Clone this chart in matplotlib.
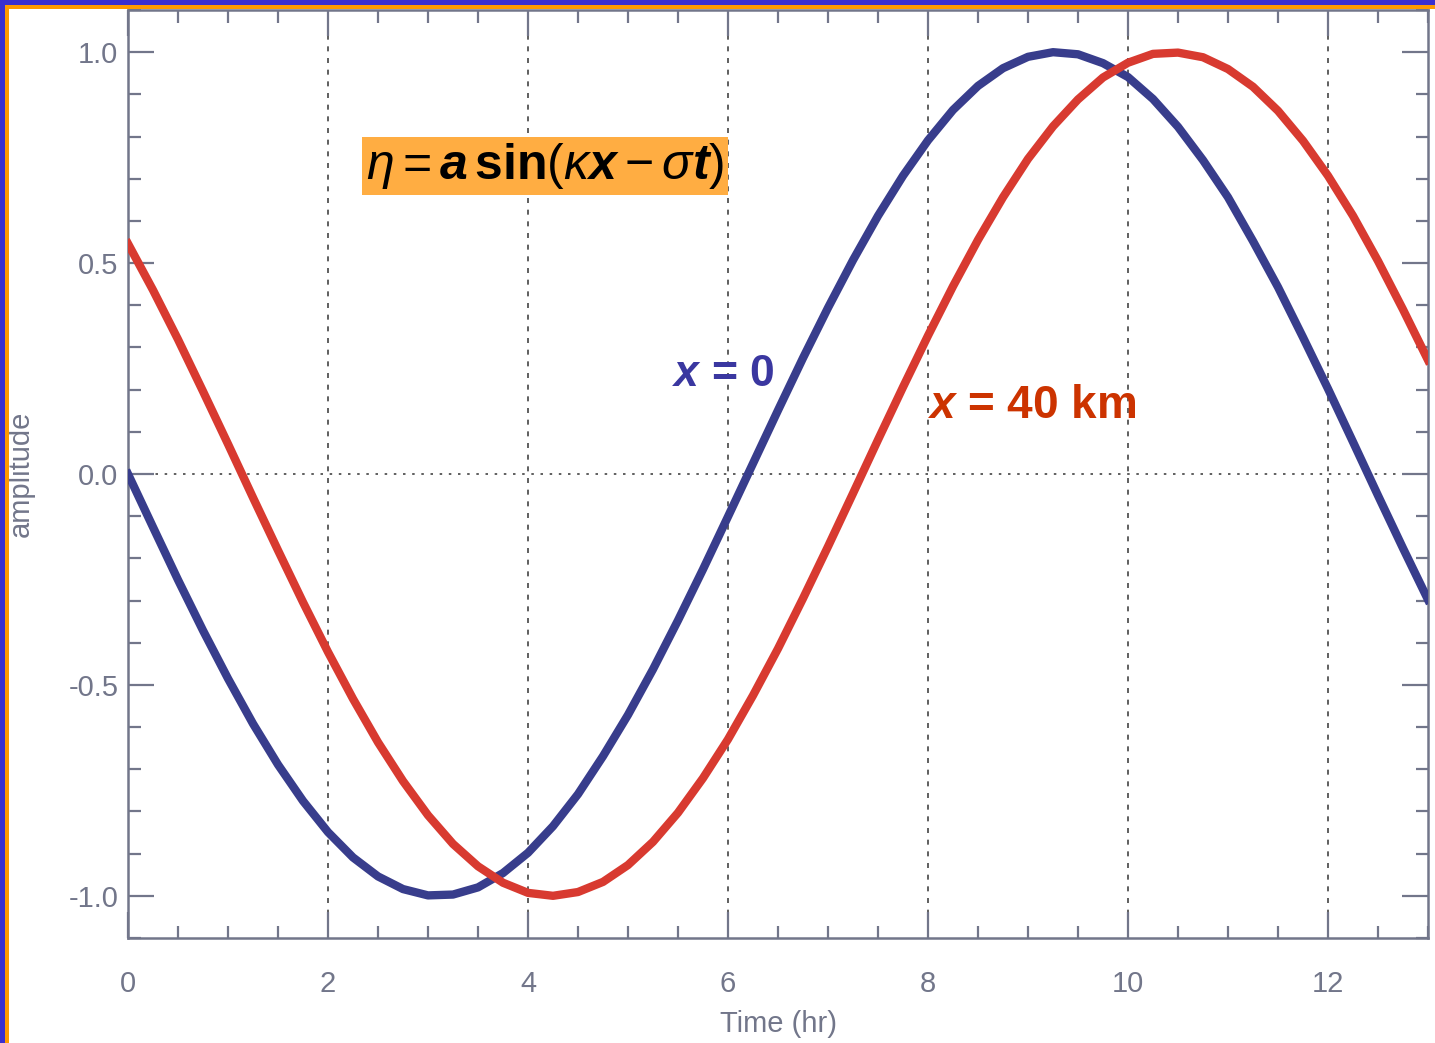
import matplotlib.pyplot as plt
from matplotlib.patches import Rectangle
from matplotlib.ticker import MultipleLocator

plt.rcParams['font.family'] = 'Liberation Sans'
plt.rcParams['mathtext.fontset'] = 'custom'
plt.rcParams['mathtext.rm'] = 'Liberation Sans'
plt.rcParams['mathtext.it'] = 'Liberation Sans:italic'
plt.rcParams['mathtext.bf'] = 'Liberation Sans:bold'
plt.rcParams['mathtext.bfit'] = 'Liberation Sans:italic:bold'

# time axis (hr) and surface elevation at the two stations
time_hr = [0.00, 0.25, 0.50, 0.75, 1.00, 1.25, 1.50, 1.75, 2.00, 2.25, 2.50,
           2.75, 3.00, 3.25, 3.50, 3.75, 4.00, 4.25, 4.50, 4.75, 5.00, 5.25,
           5.50, 5.75, 6.00, 6.25, 6.50, 6.75, 7.00, 7.25, 7.50, 7.75, 8.00,
           8.25, 8.50, 8.75, 9.00, 9.25, 9.50, 9.75, 10.00, 10.25, 10.50,
           10.75, 11.00, 11.25, 11.50, 11.75, 12.00, 12.25, 12.50, 12.75, 13.00]
eta_x0 = [0.000, -0.126, -0.251, -0.371, -0.485, -0.592, -0.689, -0.775,
          -0.849, -0.909, -0.954, -0.984, -0.999, -0.997, -0.980, -0.946,
          -0.898, -0.835, -0.759, -0.669, -0.571, -0.463, -0.347, -0.226,
          -0.101, 0.025, 0.151, 0.275, 0.394, 0.507, 0.612, 0.707, 0.791,
          0.863, 0.920, 0.962, 0.989, 1.000, 0.995, 0.974, 0.941, 0.889,
          0.823, 0.744, 0.656, 0.552, 0.443, 0.324, 0.202, 0.076, -0.051,
          -0.176, -0.298]
eta_x40 = [0.546, 0.436, 0.319, 0.196, 0.071, -0.056, -0.181, -0.304,
           -0.422, -0.533, -0.636, -0.728, -0.809, -0.877, -0.930, -0.969,
           -0.993, -1.000, -0.991, -0.967, -0.927, -0.872, -0.803, -0.721,
           -0.629, -0.525, -0.414, -0.295, -0.172, -0.046, 0.081, 0.206,
           0.328, 0.445, 0.555, 0.656, 0.747, 0.824, 0.888, 0.940, 0.975,
           0.996, 0.999, 0.988, 0.960, 0.918, 0.861, 0.790, 0.707, 0.612,
           0.505, 0.390, 0.270]

axis_col = '#72768a'

fig = plt.figure(figsize=(14.35, 10.43), dpi=100)
ax = fig.add_axes([128 / 1435, 1 - 938 / 1043, 1300 / 1435, 928 / 1043])

ax.plot(time_hr, eta_x0, color='#383d8c', lw=6, solid_joinstyle='round', zorder=3)
ax.plot(time_hr, eta_x40, color='#d83a30', lw=6, solid_joinstyle='round', zorder=3)

for xg in range(0, 13, 2):
    ax.axvline(xg, color='#444444', lw=1.2, ls=(0, (3, 4)), zorder=1)
ax.axhline(0, color='#444444', lw=1.2, ls=(0, (1.5, 4)), zorder=1)

ax.set_xlim(0, 13)
ax.set_ylim(-1.1, 1.1)
ax.xaxis.set_major_locator(MultipleLocator(2))
ax.xaxis.set_minor_locator(MultipleLocator(0.5))
ax.yaxis.set_major_locator(MultipleLocator(0.5))
ax.yaxis.set_minor_locator(MultipleLocator(0.1))
ax.yaxis.set_major_formatter(lambda v, p: f'{v:.1f}')
ax.tick_params(which='both', direction='in', top=True, right=True,
               color=axis_col, width=1.6, labelcolor=axis_col, labelsize=21)
ax.tick_params(which='major', length=19)
ax.tick_params(which='minor', length=9)
ax.tick_params(axis='x', pad=23)
ax.tick_params(axis='y', pad=7)
for s in ax.spines.values():
    s.set_color(axis_col)
    s.set_linewidth(1.8)

ax.set_xlabel('Time (hr)', fontsize=21, color=axis_col)
ax.set_ylabel('amplitude', fontsize=21, color=axis_col)
ax.xaxis.set_label_coords(0.5, -0.078)
ax.yaxis.set_label_coords(-0.0715, 0.5)

ax.text(4.17, 0.73, r'$\eta = \mathbfit{a}\,\mathbf{sin}(\kappa\mathbfit{x} - \sigma\mathbfit{t})$',
        fontsize=36, ha='center', va='center', color='black', zorder=4,
        bbox=dict(boxstyle='square,pad=0.08', facecolor='#ffad42', edgecolor='none'))
ax.text(5.44, 0.209, r'$\mathbfit{x}$ = 0', fontsize=32, fontweight='bold',
        color='#3a37a0', ha='left', va='baseline', zorder=4)
ax.text(7.99, 0.133, r'$\mathbfit{x}$ = 40 km', fontsize=33, fontweight='bold',
        color='#cc3300', ha='left', va='baseline', zorder=4)

# slide frame along the top and left edges
fig.patches.append(Rectangle((0, 1 - 4.5 / 1043), 1, 4.5 / 1043, transform=fig.transFigure,
                             facecolor='#3a2fd0', edgecolor='none', zorder=5))
fig.patches.append(Rectangle((0, 1 - 9 / 1043), 1, 4.5 / 1043, transform=fig.transFigure,
                             facecolor='#ff9a00', edgecolor='none', zorder=5))
fig.patches.append(Rectangle((4.5 / 1435, 0), 4.5 / 1435, 1 - 4.5 / 1043, transform=fig.transFigure,
                             facecolor='#ff9a00', edgecolor='none', zorder=6))
fig.patches.append(Rectangle((0, 0), 4.5 / 1435, 1, transform=fig.transFigure,
                             facecolor='#3a2fd0', edgecolor='none', zorder=7))

fig.savefig('out.png', dpi=100)
